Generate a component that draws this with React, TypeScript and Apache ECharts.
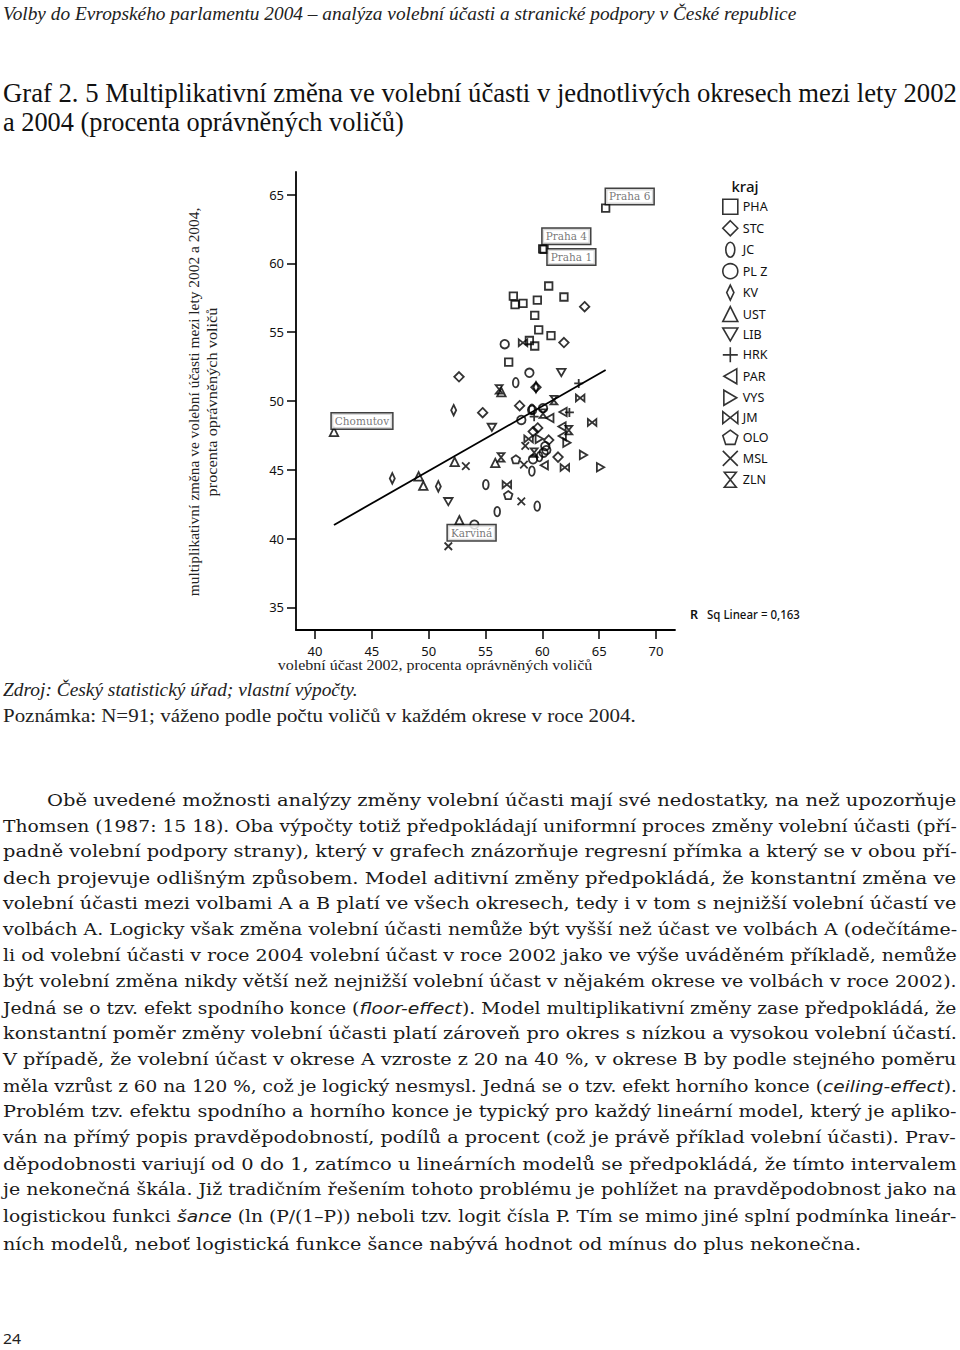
import React, { useEffect, useRef } from 'react';
import * as echarts from 'echarts';

// ---------------- DATA ----------------
const xTicks = [40, 45, 50, 55, 60, 65, 70];
const yTicks = [35, 40, 45, 50, 55, 60, 65];

const krajNames = ['PHA', 'STC', 'JC', 'PL Z', 'KV', 'UST', 'LIB', 'HRK', 'PAR', 'VYS', 'JM', 'OLO', 'MSL', 'ZLN'];

const phaPoints = [[65.57, 64.03], [60.03, 61.06], [60.15, 61.02], [60.56, 58.36], [57.45, 57.63], [57.6, 57.0], [58.3, 57.1], [59.56, 57.34], [61.9, 57.56], [59.33, 56.23], [59.68, 55.17], [60.76, 54.76], [58.86, 54.4], [59.33, 54.0], [57.04, 52.83]];
const stcPoints = [[63.72, 56.86], [61.9, 54.25], [52.67, 51.76], [59.44, 51.0], [58.0, 49.66], [54.75, 49.15], [59.59, 48.04], [59.2, 47.78], [60.56, 47.16], [61.38, 45.92]];
const jcPoints = [[57.66, 51.33], [59.08, 49.4], [59.08, 44.9], [55.03, 43.92], [59.55, 42.35], [56.03, 41.96], [59.75, 45.95]];
const plzPoints = [[56.69, 54.13], [58.86, 52.05], [58.15, 48.62], [59.1, 49.35], [60.06, 49.48], [54.02, 41.01], [60.26, 46.72], [60.35, 46.43], [60.11, 46.24], [59.18, 45.76]];
const kvPoints = [[52.2, 49.33], [46.8, 44.37], [50.85, 43.79], [59.44, 51.0]];
const ustPoints = [[41.67, 47.75], [56.4, 50.65], [49.12, 44.52], [49.53, 43.84], [52.29, 45.58], [55.86, 45.5], [52.7, 41.33]];
const libPoints = [[61.67, 52.07], [55.56, 48.08], [51.73, 42.68]];
const hrkPoints = [[63.2, 51.28], [62.38, 49.17], [59.28, 48.86]];
const parPoints = [[61.82, 49.2], [60.66, 48.76], [61.73, 48.14], [60.17, 45.33], [61.75, 47.45]];
const vysPoints = [[59.73, 47.25], [62.16, 46.97], [63.62, 46.08], [65.12, 45.18]];
const jmPoints = [[58.3, 54.23], [63.33, 50.22], [64.38, 48.44], [58.79, 47.24], [61.98, 45.16], [56.88, 43.92]];
const oloPoints = [[57.67, 45.76], [57.0, 43.16]];
const mslPoints = [[58.5, 46.74], [58.38, 45.37], [53.27, 45.26], [58.15, 42.7], [51.73, 39.44]];
const zlnPoints = [[56.2, 50.84], [60.06, 49.08], [61.02, 50.06], [62.33, 47.88], [59.28, 46.25], [56.37, 45.9]];

const fitLineX = [41.67, 65.57];
const fitLineY = [40.99, 52.25];

const pointLabels = [
  { kraj: 'PHA', index: 0, text: 'Praha 6' },
  { kraj: 'PHA', index: 1, text: 'Praha 4' },
  { kraj: 'PHA', index: 2, text: 'Praha 1' },
  { kraj: 'UST', index: 0, text: 'Chomutov' },
  { kraj: 'MSL', index: 4, text: 'Karviná' },
];

const headerText = 'Volby do Evropského parlamentu 2004 – analýza volební účasti a stranické podpory v České republice';
const titleLines = [
  'Graf 2. 5 Multiplikativní změna ve volební účasti v jednotlivých okresech mezi lety 2002',
  'a 2004 (procenta oprávněných voličů)',
];
const yAxisTitle = ['multiplikativní změna ve volební účasti mezi lety 2002 a 2004,', 'procenta oprávněných voličů'];
const xAxisTitle = 'volební účast 2002, procenta oprávněných voličů';
const legendTitle = 'kraj';
const rSqLabel = 'R';
const rSqText = 'Sq Linear = 0,163';
const sourceText = 'Zdroj: Český statistický úřad; vlastní výpočty.';
const noteText = 'Poznámka: N=91; váženo podle počtu voličů v každém okrese v roce 2004.';
const paragraphLines = [
  'Obě uvedené možnosti analýzy změny volební účasti mají své nedostatky, na než upozorňuje',
  'Thomsen (1987: 15 18). Oba výpočty totiž předpokládají uniformní proces změny volební účasti (pří-',
  'padně volební podpory strany), který v grafech znázorňuje regresní přímka a který se v obou pří-',
  'dech projevuje odlišným způsobem. Model aditivní změny předpokládá, že konstantní změna ve',
  'volební účasti mezi volbami A a B platí ve všech okresech, tedy i v tom s nejnižší volební účastí ve',
  'volbách A. Logicky však změna volební účasti nemůže být vyšší než účast ve volbách A (odečítáme-',
  'li od volební účasti v roce 2004 volební účast v roce 2002 jako ve výše uváděném příkladě, nemůže',
  'být volební změna nikdy větší než nejnižší volební účast v nějakém okrese ve volbách v roce 2002).',
  'Jedná se o tzv. efekt spodního konce ({i|floor-effect}). Model multiplikativní změny zase předpokládá, že',
  'konstantní poměr změny volební účasti platí zároveň pro okres s nízkou a vysokou volební účastí.',
  'V případě, že volební účast v okrese A vzroste z 20 na 40 %, v okrese B by podle stejného poměru',
  'měla vzrůst z 60 na 120 %, což je logický nesmysl. Jedná se o tzv. efekt horního konce ({i|ceiling-effect}).',
  'Problém tzv. efektu spodního a horního konce je typický pro každý lineární model, který je apliko-',
  'ván na přímý popis pravděpodobností, podílů a procent (což je právě příklad volební účasti). Prav-',
  'děpodobnosti variují od 0 do 1, zatímco u lineárních modelů se předpokládá, že tímto intervalem',
  'je nekonečná škála. Již tradičním řešením tohoto problému je pohlížet na pravděpodobnost jako na',
  'logistickou funkci {i|šance} (ln (P/(1–P)) neboli tzv. logit čísla P. Tím se mimo jiné splní podmínka lineár-',
  'ních modelů, neboť logistická funkce šance nabývá hodnot od mínus do plus nekonečna.',
];
const pageNumber = '24';

// ---------------- STYLE ----------------
const SERIF = '"DejaVu Serif"';
const TSERIF = '"Liberation Serif"';
const SANS = '"Noto Sans"';

const symbols: Record<string, string> = {
  PHA: 'rect',
  STC: 'diamond',
  JC: 'path://M0,-5C1.66,-5,3,-2.76,3,0C3,2.76,1.66,5,0,5C-1.66,5,-3,2.76,-3,0C-3,-2.76,-1.66,-5,0,-5Z',
  'PL Z': 'circle',
  KV: 'path://M0,-5L2.4,0L0,5L-2.4,0Z',
  UST: 'triangle',
  LIB: 'path://M-5,-4.3L5,-4.3L0,4.3Z',
  HRK: 'path://M0,-5L0,5M-5,0L5,0',
  PAR: 'path://M4.3,-5L4.3,5L-4.3,0Z',
  VYS: 'path://M-4.3,-5L-4.3,5L4.3,0Z',
  JM: 'path://M-5,-4L5,4L5,-4L-5,4Z',
  OLO: 'path://M0,-5L4.76,-1.55L2.94,4.05L-2.94,4.05L-4.76,-1.55Z',
  MSL: 'path://M-4,-4L4,4M-4,4L4,-4',
  ZLN: 'path://M-4,-5L4,-5L-4,5L4,5Z',
};
const symbolSizes: Record<string, number> = {
  PHA: 7.5, STC: 9.5, JC: 9.5, 'PL Z': 8.5, KV: 10.5, UST: 8.5, LIB: 8.5, HRK: 9, PAR: 8.5, VYS: 8.5, JM: 8.5, OLO: 8.5, MSL: 7.5, ZLN: 8.5,
};
const labelOffsets: Record<string, number[]> = {
  'Praha 6': [5, -14.5],
  'Praha 4': [4.6, -15.4],
  'Praha 1': [8.3, 4.7],
  Chomutov: [3, -13.4],
  'Karviná': [4.2, -16.4],
};

const pointsByKraj: Record<string, number[][]> = {
  PHA: phaPoints, STC: stcPoints, JC: jcPoints, 'PL Z': plzPoints, KV: kvPoints, UST: ustPoints,
  LIB: libPoints, HRK: hrkPoints, PAR: parPoints, VYS: vysPoints, JM: jmPoints, OLO: oloPoints,
  MSL: mslPoints, ZLN: zlnPoints,
};

let measureCtx: CanvasRenderingContext2D | null = null;
function measure(text: string, size: number, family: string, italic = false, weight = 'normal') {
  if (!measureCtx) measureCtx = document.createElement('canvas').getContext('2d');
  const ctx = measureCtx!;
  ctx.font = `${italic ? 'italic' : 'normal'} ${weight} ${size}px ${family}`;
  return ctx.measureText(text).width;
}

type TOpt = {
  x: number; y: number; width?: number; size: number; family: string; italic?: boolean;
  align?: 'left' | 'center'; rotation?: number; color?: string; weight?: string;
  richFamily?: string;
};

function fitText(content: string, o: TOpt) {
  const parts: { t: string; i: boolean }[] = [];
  const re = /\{i\|([^}]*)\}/g;
  let last = 0;
  let m: RegExpExecArray | null;
  while ((m = re.exec(content))) {
    if (m.index > last) parts.push({ t: content.slice(last, m.index), i: false });
    parts.push({ t: m[1], i: true });
    last = m.index + m[0].length;
  }
  if (last < content.length) parts.push({ t: content.slice(last), i: false });
  let w = 0;
  parts.forEach((p) => {
    w += p.i
      ? measure(p.t, o.size, o.richFamily || o.family, true)
      : measure(p.t, o.size, o.family, !!o.italic, o.weight || 'normal');
  });
  const scaleX = o.width && w > 0 ? o.width / w : 1;
  const align = o.align || 'left';
  return {
    type: 'text',
    x: o.x,
    y: o.y,
    rotation: o.rotation || 0,
    scaleX,
    silent: true,
    style: {
      text: content,
      fontSize: o.size,
      fontFamily: o.family,
      fontStyle: o.italic ? 'italic' : 'normal',
      fontWeight: o.weight || 'normal',
      fill: o.color || '#1a1a1a',
      align,
      textAlign: align,
      verticalAlign: 'middle',
      textVerticalAlign: 'middle',
      rich: {
        i: { fontStyle: 'italic', fontFamily: o.richFamily || o.family, fontSize: o.size, fill: o.color || '#1a1a1a' },
      },
    },
  };
}

function buildGraphics() {
  const els: any[] = [];
  els.push(fitText(headerText, { x: 3, y: 14, width: 794, size: 18, family: TSERIF, italic: true, color: '#222' }));
  els.push(fitText(titleLines[0], { x: 3, y: 93, width: 954, size: 27, family: TSERIF, color: '#111' }));
  els.push(fitText(titleLines[1], { x: 3, y: 122, width: 401, size: 27, family: TSERIF, color: '#111' }));
  els.push(fitText(yAxisTitle[0], { x: 194, y: 402, width: 389, size: 15, family: TSERIF, align: 'center', rotation: Math.PI / 2, color: '#222' }));
  els.push(fitText(yAxisTitle[1], { x: 212, y: 402, width: 189, size: 15, family: TSERIF, align: 'center', rotation: Math.PI / 2, color: '#222' }));
  els.push(fitText(xAxisTitle, { x: 435, y: 665, width: 315, size: 15, family: TSERIF, align: 'center', color: '#222' }));
  els.push(fitText(legendTitle, { x: 745, y: 186, size: 15, family: SANS, align: 'center', color: '#111', weight: '500' }));
  els.push(fitText(rSqLabel, { x: 690, y: 614, size: 12.5, family: SANS, color: '#111', weight: '600' }));
  els.push(fitText(rSqText, { x: 707, y: 614, width: 93, size: 12.5, family: SANS, color: '#111', weight: '500' }));
  els.push(fitText(sourceText, { x: 3, y: 690, width: 355, size: 18, family: TSERIF, italic: true, color: '#222' }));
  els.push(fitText(noteText, { x: 3, y: 716, width: 633, size: 18, family: TSERIF, color: '#222' }));
  paragraphLines.forEach((line, k) => {
    const isFirst = k === 0;
    const isLast = k === paragraphLines.length - 1;
    const x = isFirst ? 47 : 3;
    const width = isFirst ? 910 : isLast ? 859 : 954;
    const y = isLast ? 1245 : 800 + k * 26;
    els.push(fitText(line, { x, y, width, size: 16, family: SERIF, color: '#1a1a1a', richFamily: '"DejaVu Sans"' }));
  });
  els.push(fitText(pageNumber, { x: 3, y: 1338, width: 18, size: 14, family: SANS, color: '#222' }));
  return els;
}

function buildSeries() {
  const series: any[] = krajNames.map((k) => {
    const pts = pointsByKraj[k];
    const data = pts.map((p, idx) => {
      const lab = pointLabels.find((l) => l.kraj === k && l.index === idx);
      if (!lab) return p;
      return {
        value: p,
        label: {
          show: true,
          formatter: lab.text,
          position: labelOffsets[lab.text],
          fontFamily: SERIF,
          fontSize: 10.5,
          color: '#555',
          backgroundColor: '#fff',
          borderColor: '#111',
          borderWidth: 1.5,
          padding: [1, 3, 1, 3],
          lineHeight: 13,
        },
      };
    });
    return {
      type: 'scatter',
      name: k,
      symbol: symbols[k],
      symbolSize: symbolSizes[k],
      symbolKeepAspect: true,
      itemStyle: { color: 'rgba(0,0,0,0)', borderColor: '#000', borderWidth: 1.8 },
      emphasis: { disabled: true },
      data,
      z: 3,
    };
  });
  series.push({
    type: 'line',
    name: 'fit',
    data: fitLineX.map((x, i) => [x, fitLineY[i]]),
    symbol: 'none',
    lineStyle: { color: '#000', width: 1.8 },
    emphasis: { disabled: true },
    z: 2,
  });
  return series;
}

export default function App() {
  const ref = useRef<HTMLDivElement>(null);
  useEffect(() => {
    if (!ref.current) return;
    const chart = echarts.init(ref.current, null, { renderer: 'svg' });
    const axisCommon = {
      type: 'value',
      axisLine: { show: true, onZero: false, lineStyle: { color: '#000', width: 1.8 } },
      splitLine: { show: false },
    };
    chart.setOption({
      animation: false,
      backgroundColor: '#fff',
      grid: { left: 296, top: 172, width: 379, height: 458, containLabel: false, outerBoundsMode: 'none' },
      xAxis: {
        ...axisCommon,
        min: 38.33,
        max: 71.67,
        axisTick: { show: true, length: 9, lineStyle: { color: '#000', width: 1.5 }, customValues: xTicks },
        axisLabel: { customValues: xTicks, margin: 14, fontFamily: SANS, fontSize: 13, color: '#111' },
      },
      yAxis: {
        ...axisCommon,
        min: 33.35,
        max: 66.65,
        axisTick: { show: true, length: 9, lineStyle: { color: '#000', width: 1.5 }, customValues: yTicks },
        axisLabel: { customValues: yTicks, margin: 12, fontFamily: SANS, fontSize: 13, color: '#111' },
      },
      legend: {
        orient: 'vertical',
        left: 722,
        top: 198.5,
        padding: 0,
        itemWidth: 15,
        itemHeight: 15,
        itemGap: 4.85,
        selectedMode: false,
        data: krajNames,
        itemStyle: { borderWidth: 1.6, borderColor: '#000' },
        textStyle: { fontFamily: SANS, fontSize: 12.5, color: '#111' },
      },
      tooltip: { show: false },
      series: buildSeries(),
      graphic: { elements: buildGraphics() },
    });
    return () => chart.dispose();
  }, []);
  return (
    <div
      ref={ref}
      style={{ position: 'absolute', left: 0, top: 0, width: 960, height: 1350, background: '#fff' }}
    />
  );
}
